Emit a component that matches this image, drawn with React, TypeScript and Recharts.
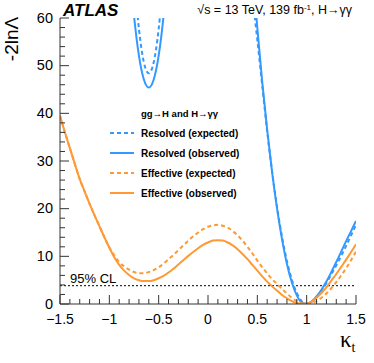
import { LineChart, Line, XAxis, YAxis, ReferenceLine } from 'recharts';

// kappa_t grid the curves were read on
const kappa = [
  -1.5, -1.45, -1.4, -1.35, -1.3, -1.25, -1.2, -1.15, -1.1, -1.05,
  -1.0, -0.95, -0.9, -0.85, -0.8, -0.75, -0.7, -0.65, -0.6, -0.55,
  -0.5, -0.45, -0.4, -0.35, -0.3, -0.25, -0.2, -0.15, -0.1, -0.05,
  0, 0.05, 0.1, 0.15, 0.2, 0.25, 0.3, 0.35, 0.4, 0.45,
  0.5, 0.55, 0.6, 0.65, 0.7, 0.75, 0.8, 0.85, 0.9, 0.95,
  1.0, 1.05, 1.1, 1.15, 1.2, 1.25, 1.3, 1.35, 1.4, 1.45,
  1.5,
];

const resolvedExpected = [
  null, null, null, null, null, null, null, null, null, null,
  null, null, null, null, null, 69.2, 57.7, 50.7, 48.4, 50.7,
  57.7, 69.2, null, null, null, null, null, null, null, null,
  null, null, null, null, null, null, null, null, null, 64.7,
  55.4, 45.8, 36.2, 27.7, 20.3, 14.1, 9.0, 5.1, 2.3, 0.6,
  0, 0.5, 1.4, 2.8, 4.4, 6.2, 8.1, 10.1, 12.2, 14.4,
  16.6,
];

const resolvedObserved = [
  null, null, null, null, null, null, null, null, null, null,
  null, null, null, null, 72.2, 60.5, 52.1, 47.1, 45.4, 47.1,
  52.1, 60.5, 72.2, null, null, null, null, null, null, null,
  null, null, null, null, null, null, null, null, null, 70.3,
  57.9, 46.5, 36.5, 27.6, 20.0, 13.6, 8.4, 4.5, 1.8, 0.3,
  0.05, 0.5, 1.6, 3.0, 4.7, 6.7, 8.8, 11.0, 13.2, 15.3,
  17.4,
];

const effectiveExpected = [
  39.5, 36.0, 32.7, 29.4, 26.2, 23.6, 21.0, 18.6, 16.3, 14.0,
  11.9, 10.2, 8.8, 7.9, 7.2, 6.7, 6.45, 6.45, 6.7, 7.1,
  7.7, 8.5, 9.4, 10.3, 11.3, 12.3, 13.3, 14.2, 15.0, 15.7,
  16.2, 16.5, 16.6, 16.4, 16.0, 15.3, 14.4, 13.3, 12.0, 10.6,
  9.1, 7.7, 6.4, 5.2, 4.2, 3.2, 2.2, 1.3, 0.6, 0.15,
  0, 0.15, 0.6, 1.3, 2.2, 3.3, 4.6, 6.0, 7.5, 9.2,
  11.0,
];

const effectiveObserved = [
  39.5, 36.0, 32.7, 29.4, 26.2, 23.6, 21.0, 18.6, 16.3, 14.0,
  11.8, 9.8, 8.2, 7.0, 6.1, 5.4, 5.0, 4.8, 4.8, 5.0,
  5.4, 5.9, 6.6, 7.4, 8.3, 9.2, 10.1, 10.9, 11.7, 12.4,
  12.9, 13.3, 13.4, 13.3, 12.9, 12.3, 11.5, 10.5, 9.4, 8.2,
  7.0, 5.8, 4.7, 3.7, 2.8, 1.9, 1.2, 0.6, 0.2, 0.02,
  0.1, 0.5, 1.3, 2.3, 3.5, 4.9, 6.3, 7.8, 9.3, 10.9,
  12.5,
];

const xTicks = [
  -1.5, -1.4, -1.3, -1.2, -1.1, -1.0, -0.9, -0.8, -0.7, -0.6,
  -0.5, -0.4, -0.3, -0.2, -0.1, 0, 0.1, 0.2, 0.3, 0.4,
  0.5, 0.6, 0.7, 0.8, 0.9, 1.0, 1.1, 1.2, 1.3, 1.4, 1.5,
];
const yTicks = [
  0, 2, 4, 6, 8, 10, 12, 14, 16, 18, 20, 22, 24, 26, 28, 30,
  32, 34, 36, 38, 40, 42, 44, 46, 48, 50, 52, 54, 56, 58, 60,
];
const cl95 = 3.84;

const BLUE = '#3399ff';
const ORANGE = '#ff9933';
const AXIS = '#333';
const FONT = '"Liberation Sans", Arial, Helvetica, sans-serif';

const toRows = (vals: (number | null)[]) => kappa.map((k, i) => ({ k, v: vals[i] }));

const isMajor = (v: number, step: number) => Math.abs(v / step - Math.round(v / step)) < 1e-6;

const fmtX = (v: number) => {
  const s = Math.abs(v) < 1e-9 ? '0' : String(Math.abs(v));
  return v < -1e-9 ? '\u2212' + s : s;
};

function XTick(props: any) {
  const { x, y, payload, side } = props;
  const major = isMajor(payload.value, 0.5);
  const len = major ? 9 : 5;
  const dir = side === 'bottom' ? -1 : 1;
  return (
    <g>
      <line x1={x} y1={y} x2={x} y2={y + dir * len} stroke={AXIS} strokeWidth={1} />
      {side === 'bottom' && major && (
        <text x={x} y={y + 20} textAnchor="middle" fontSize={14} fontFamily={FONT} fill="#000">
          {fmtX(payload.value)}
        </text>
      )}
    </g>
  );
}

function YTick(props: any) {
  const { x, y, payload, side } = props;
  const major = isMajor(payload.value, 10);
  const len = major ? 9 : 5;
  const dir = side === 'left' ? 1 : -1;
  return (
    <g>
      <line x1={x} y1={y} x2={x + dir * len} y2={y} stroke={AXIS} strokeWidth={1} />
      {side === 'left' && major && (
        <text x={x - 7} y={y + 4.5} textAnchor="end" fontSize={14.5} fontFamily={FONT} fill="#000">
          {payload.value}
        </text>
      )}
    </g>
  );
}

const legendRows = [
  { label: 'Resolved (expected)', color: BLUE, dash: '4 3' },
  { label: 'Resolved (observed)', color: BLUE, dash: undefined },
  { label: 'Effective (expected)', color: ORANGE, dash: '4 3' },
  { label: 'Effective (observed)', color: ORANGE, dash: undefined },
];

export default function App() {
  return (
    <div style={{ position: 'absolute', left: 0, top: 0, width: 374, height: 363, background: '#fff' }}>
      <LineChart
        width={374}
        height={363}
        margin={{ top: 18, right: 18, left: 0, bottom: 0 }}
      >
        <XAxis
          dataKey="k"
          type="number"
          domain={[-1.5, 1.5]}
          allowDataOverflow
          ticks={xTicks}
          interval={0}
          height={59}
          tickSize={0}
          tickMargin={0}
          tickLine={false}
          axisLine={{ stroke: AXIS }}
          tick={(p: any) => <XTick {...p} side="bottom" />}
        />
        <XAxis
          xAxisId="top"
          orientation="top"
          dataKey="k"
          type="number"
          domain={[-1.5, 1.5]}
          allowDataOverflow
          ticks={xTicks}
          interval={0}
          height={0}
          tickSize={0}
          tickMargin={0}
          tickLine={false}
          axisLine={{ stroke: AXIS }}
          tick={(p: any) => <XTick {...p} side="top" />}
        />
        <YAxis
          type="number"
          domain={[0, 60]}
          allowDataOverflow
          ticks={yTicks}
          interval={0}
          width={60}
          tickSize={0}
          tickMargin={0}
          tickLine={false}
          axisLine={{ stroke: AXIS }}
          tick={(p: any) => <YTick {...p} side="left" />}
        />
        <YAxis
          yAxisId="right"
          orientation="right"
          type="number"
          domain={[0, 60]}
          allowDataOverflow
          ticks={yTicks}
          interval={0}
          width={0}
          tickSize={0}
          tickMargin={0}
          tickLine={false}
          axisLine={{ stroke: AXIS }}
          tick={(p: any) => <YTick {...p} side="right" />}
        />
        <ReferenceLine y={cl95} stroke="#000" strokeDasharray="2 2" strokeWidth={1} />
        <Line
          data={toRows(resolvedExpected)}
          dataKey="v"
          type="monotone"
          stroke={BLUE}
          strokeWidth={2}
          strokeDasharray="4 3"
          dot={false}
          isAnimationActive={false}
        />
        <Line
          data={toRows(resolvedObserved)}
          dataKey="v"
          type="monotone"
          stroke={BLUE}
          strokeWidth={2}
          dot={false}
          isAnimationActive={false}
        />
        <Line
          data={toRows(effectiveExpected)}
          dataKey="v"
          type="monotone"
          stroke={ORANGE}
          strokeWidth={2}
          strokeDasharray="4 3"
          dot={false}
          isAnimationActive={false}
        />
        <Line
          data={toRows(effectiveObserved)}
          dataKey="v"
          type="monotone"
          stroke={ORANGE}
          strokeWidth={2}
          dot={false}
          isAnimationActive={false}
        />
      </LineChart>

      {/* labels, header and legend drawn on top */}
      <svg
        width={374}
        height={363}
        style={{ position: 'absolute', left: 0, top: 0, pointerEvents: 'none' }}
      >
        <text x={63} y={16} fontSize={17} fontWeight="bold" fontStyle="italic" fontFamily={FONT}>
          ATLAS
        </text>
        <text x={352} y={14} textAnchor="end" fontSize={12.5} fontFamily={FONT}>
          √s = 13 TeV, 139 fb<tspan fontSize={8} dy={-4}>-1</tspan>
          <tspan dy={4}>, H→γγ</tspan>
        </text>
        <text
          x={18}
          y={39}
          textAnchor="middle"
          fontSize={19}
          fontFamily={FONT}
          transform="rotate(-90 18 39)"
        >
          -2lnΛ
        </text>
        <text x={340} y={347} fontSize={23} fontFamily='"Liberation Serif", "Times New Roman", serif'>
          κ<tspan fontSize={14} dy={5}>t</tspan>
        </text>
        <text x={70} y={283} fontSize={13} fontFamily={FONT}>
          95% CL
        </text>
        <text x={141} y={117} fontSize={9.5} fontWeight="bold" fontFamily={FONT}>
          gg→H and H→γγ
        </text>
        {legendRows.map((r, i) => (
          <g key={r.label}>
            <line
              x1={110}
              x2={134}
              y1={133 + i * 20}
              y2={133 + i * 20}
              stroke={r.color}
              strokeWidth={2}
              strokeDasharray={r.dash}
            />
            <text x={141} y={137 + i * 20} fontSize={10} fontWeight="bold" fontFamily={FONT}>
              {r.label}
            </text>
          </g>
        ))}
      </svg>
    </div>
  );
}
